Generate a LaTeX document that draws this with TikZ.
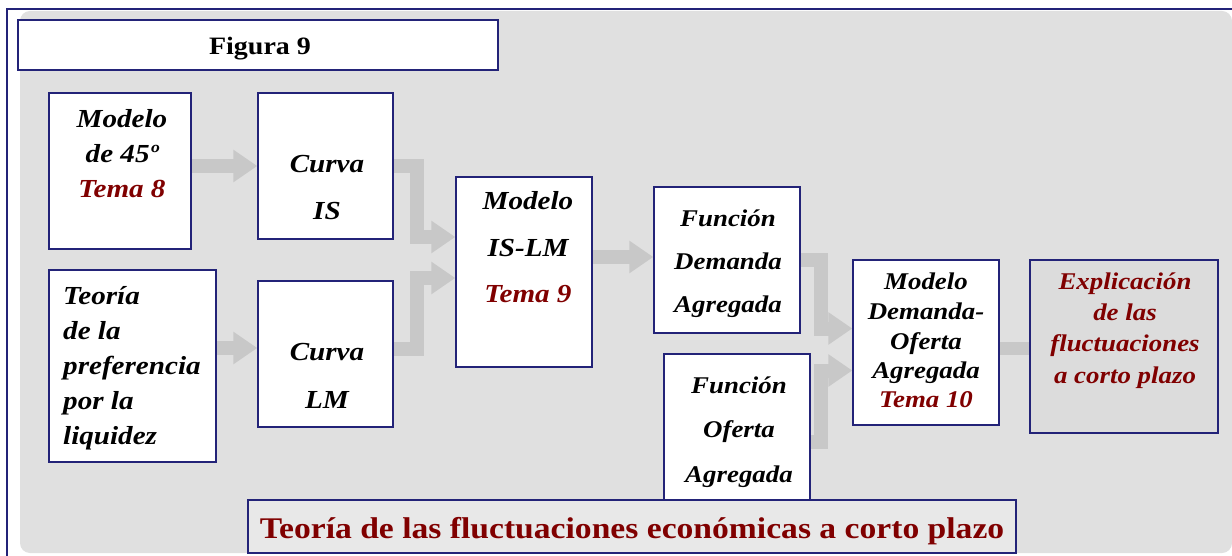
\documentclass[tikz,border=0pt]{standalone}
\usepackage{fontspec}
\setmainfont{Liberation Serif}[FakeStretch=1.12]
\usetikzlibrary{arrows.meta}
\definecolor{navy}{RGB}{35,35,120}
\definecolor{dred}{RGB}{128,0,0}
\definecolor{bggray}{RGB}{224,224,224}
\definecolor{expgray}{RGB}{220,220,220}
\definecolor{titgray}{RGB}{232,232,232}
\definecolor{arrgray}{RGB}{200,200,200}
\pgfdeclarelayer{bgl}
\pgfdeclarelayer{arl}
\pgfsetlayers{bgl,arl,main}
\newcommand{\bxfont}[2]{\fontsize{#1}{#2}\selectfont\bfseries\itshape}
\tikzset{
  box/.style={draw=navy, line width=1.4pt, fill=white, rectangle, inner sep=0pt},
  barrow/.style={draw=arrgray, line width=14pt, line join=miter, -{Triangle[width=31pt,length=24pt]}},
  bshaft/.style={draw=arrgray, line width=13pt},
  lbl/.style={inner sep=0pt, anchor=base}
}
\begin{document}
\begin{tikzpicture}[x=1pt,y=-1pt]
\useasboundingbox (0,0) rectangle (1232,556);
\begin{pgfonlayer}{bgl}
  \fill[white] (0,0) rectangle (1232,556);
  \fill[bggray, rounded corners=10pt] (20,11) rectangle (1232,553);
  \draw[navy, line width=2pt] (7,560) -- (7,9) -- (1240,9);
\end{pgfonlayer}

% boxes
\node[box, minimum width=480pt, minimum height=50pt] (fig) at (258,45) {};
\node[box, minimum width=142pt, minimum height=156pt] (m45) at (120,171) {};
\node[box, minimum width=135pt, minimum height=146pt] (cis) at (325.5,166) {};
\node[box, minimum width=167pt, minimum height=192pt] (teo) at (132.5,366) {};
\node[box, minimum width=135pt, minimum height=146pt] (clm) at (325.5,354) {};
\node[box, minimum width=136pt, minimum height=190pt] (islm) at (524,272) {};
\node[box, minimum width=146pt, minimum height=146pt] (dem) at (727,260) {};
\node[box, minimum width=146pt, minimum height=146pt] (ofe) at (737,427) {};
\node[box, minimum width=146pt, minimum height=165pt] (dof) at (926,342.5) {};
\node[box, fill=expgray, minimum width=188pt, minimum height=173pt] (exp) at (1124,346.5) {};
\node[box, fill=titgray, minimum width=768pt, minimum height=53pt] (tit) at (632,526.5) {};

% texts
\node[lbl] (tfig) at (260,55) {\fontsize{25}{30}\selectfont\bfseries Figura 9};
\node[lbl] (t45) at (122,128) {\bxfont{26}{35}\begin{tabular}[t]{@{}c@{}}Modelo\\de 45º\\\textcolor{dred}{Tema 8}\end{tabular}};
\node[lbl] (tcis) at (327,173) {\bxfont{26}{47}\begin{tabular}[t]{@{}c@{}}Curva\\IS\end{tabular}};
\node[lbl, anchor=base west] (tteo) at (63,305) {\bxfont{26}{35}\begin{tabular}[t]{@{}l@{}}Teoría\\de la\\preferencia\\por la\\liquidez\end{tabular}};
\node[lbl] (tclm) at (327,360) {\bxfont{26}{48}\begin{tabular}[t]{@{}c@{}}Curva\\LM\end{tabular}};
\node[lbl] (tislm) at (528,210) {\bxfont{26}{46.5}\begin{tabular}[t]{@{}c@{}}Modelo\\IS-LM\\\textcolor{dred}{Tema 9}\end{tabular}};
\node[lbl] (tdem) at (728,227) {\bxfont{24}{43}\begin{tabular}[t]{@{}c@{}}Función\\Demanda\\Agregada\end{tabular}};
\node[lbl] (tofe) at (739,393) {\bxfont{24}{44.5}\begin{tabular}[t]{@{}c@{}}Función\\Oferta\\Agregada\end{tabular}};
\node[lbl] (tdof) at (926,290) {\bxfont{24}{29.5}\begin{tabular}[t]{@{}c@{}}Modelo\\Demanda-\\Oferta\\Agregada\\\textcolor{dred}{Tema 10}\end{tabular}};
\node[lbl] (texp) at (1125,290) {\bxfont{24}{31}\color{dred}\begin{tabular}[t]{@{}c@{}}Explicación\\de las\\fluctuaciones\\a corto plazo\end{tabular}};
\node[lbl] (ttit) at (632,538) {\fontsize{30}{36}\selectfont\bfseries\color{dred}Teoría de las fluctuaciones económicas a corto plazo};

% arrows
\begin{pgfonlayer}{arl}
  \draw[barrow] ([yshift=5pt]m45.east) -- ([yshift=5pt]m45.east -| cis.west);
  \draw[barrow] (cis.east) -- ++(23,0) |- ([yshift=35pt]islm.west);
  \draw[barrow] ([yshift=18pt]teo.east) -- ([yshift=18pt]teo.east -| clm.west);
  \draw[barrow] ([yshift=5pt]clm.east) -- ++(23,0) |- ([yshift=-6pt]islm.west);
  \draw[barrow] ([yshift=15pt]islm.east) -- ([yshift=15pt]islm.east -| dem.west);
  \draw[barrow] (dem.east) -- ++(20,0) |- ([yshift=14pt]dof.west);
  \draw[barrow] ([yshift=-15pt]ofe.east) -- ++(10,0) |- ([yshift=-28pt]dof.west);
  \draw[bshaft] ([yshift=-6pt]dof.east) -- ([yshift=-6pt]dof.east -| exp.west);
\end{pgfonlayer}
\end{tikzpicture}
\end{document}
